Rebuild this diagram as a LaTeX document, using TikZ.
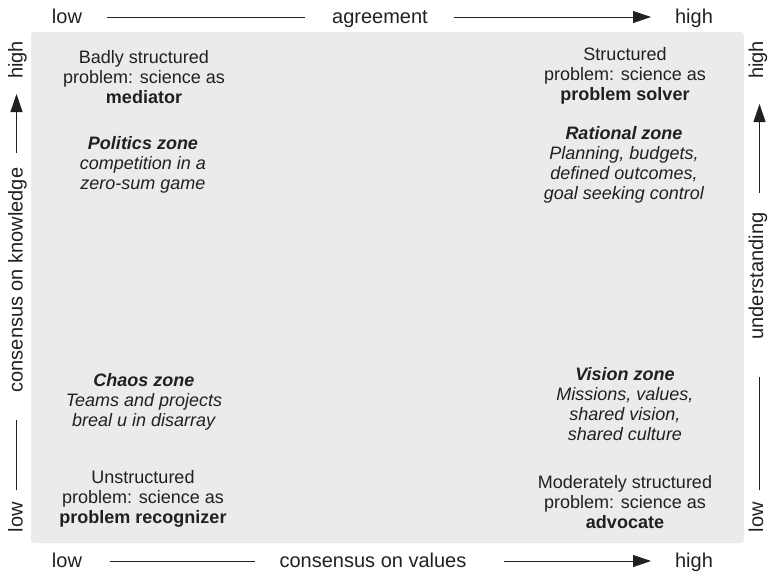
\documentclass[tikz,border=0pt]{standalone}
\usepackage{fontspec}
\setmainfont{Liberation Sans}
\usetikzlibrary{arrows.meta}
\definecolor{boxgray}{RGB}{235,235,235}
\definecolor{txt}{RGB}{35,31,32}
\begin{document}
\begin{tikzpicture}[x=1pt,y=-1pt,
  zone/.style={align=center, font=\fontsize{18}{20}\selectfont, text=txt, inner sep=0pt},
  axlab/.style={font=\fontsize{20}{24}\selectfont, text=txt, inner sep=0pt, anchor=base},
  axline/.style={line width=0.9pt, draw=txt},
  axarrow/.style={axline, -{Triangle[length=18pt,width=12pt]}}]
\useasboundingbox (0,0) rectangle (768,573);
% quadrant field
\node[fill=boxgray, rounded corners=3pt, minimum width=713pt, minimum height=511pt, inner sep=0pt] (quad) at (387.5,287.5) {};
% zone texts
\node[zone] (tl) at (144,77) {Badly structured\\problem: science as\\\textbf{mediator}};
\node[zone] (pol) at (143,165) {\textbf{\textit{Politics zone}}\\\textit{competition in a}\\\textit{zero-sum game}};
\node[zone] (tr) at (625,76) {Structured\\problem: science as\\\textbf{problem solver}};
\node[zone] (rat) at (624,165) {\textbf{\textit{Rational zone}}\\\textit{Planning, budgets,}\\\textit{defined outcomes,}\\\textit{goal seeking control}};
\node[zone] (cha) at (144,402) {\textbf{\textit{Chaos zone}}\\\textit{Teams and projects}\\\textit{breal u in disarray}};
\node[zone] (vis) at (625,404) {\textbf{\textit{Vision zone}}\\\textit{Missions, values,}\\\textit{shared vision,}\\\textit{shared culture}};
\node[zone] (br) at (625,502) {Moderately structured\\problem: science as\\\textbf{advocate}};
\node[zone] (bl) at (143,499) {Unstructured\\problem: science as\\\textbf{problem recognizer}};
% top axis
\node[axlab] (tlow) at (67,23.5) {low};
\node[axlab] (tagr) at (380,23.5) {agreement};
\node[axlab] (thigh) at (694,23.5) {high};
\coordinate (ta1) at (107,17);
\coordinate (ta2) at (305,17);
\coordinate (ta3) at (454,17);
\coordinate (ta4) at (651,17);
\draw[axline] (ta1) -- (ta2);
\draw[axarrow] (ta3) -- (ta4);
% bottom axis
\node[axlab] (blow) at (67,567) {low};
\node[axlab] (bval) at (373,567) {consensus on values};
\node[axlab] (bhigh) at (694,567) {high};
\coordinate (ba1) at (110,561);
\coordinate (ba2) at (255,561);
\coordinate (ba3) at (504,561);
\coordinate (ba4) at (651,561);
\draw[axline] (ba1) -- (ba2);
\draw[axarrow] (ba3) -- (ba4);
% left axis
\node[axlab, rotate=90] (lhigh) at (22.5,60) {high};
\node[axlab, rotate=90] (lknow) at (22.5,280) {consensus on knowledge};
\node[axlab, rotate=90] (llow) at (22.5,517) {low};
\coordinate (la1) at (16.5,153);
\coordinate (la2) at (16.5,94);
\coordinate (la3) at (16.5,420);
\coordinate (la4) at (16.5,490);
\draw[axarrow] (la1) -- (la2);
\draw[axline] (la3) -- (la4);
% right axis
\node[axlab, rotate=90] (rhigh) at (763,60) {high};
\node[axlab, rotate=90] (rund) at (763,276) {understanding};
\node[axlab, rotate=90] (rlow) at (763,517) {low};
\coordinate (ra1) at (759.5,193);
\coordinate (ra2) at (759.5,104);
\coordinate (ra3) at (759.5,377);
\coordinate (ra4) at (759.5,490);
\draw[axarrow] (ra1) -- (ra2);
\draw[axline] (ra3) -- (ra4);
\end{tikzpicture}
\end{document}
